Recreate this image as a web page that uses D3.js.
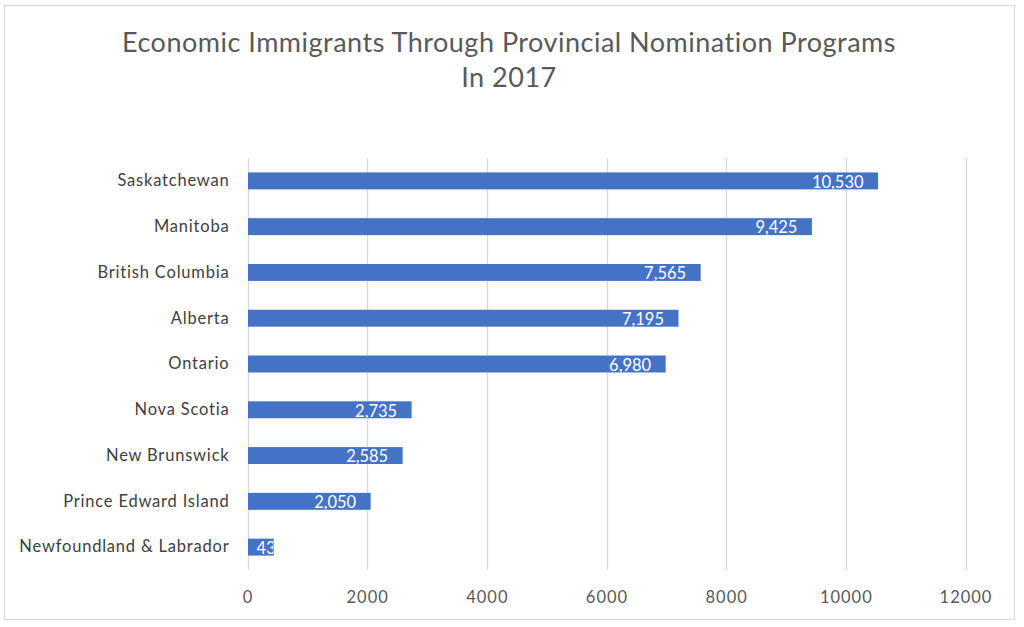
<!DOCTYPE html>
<html>
<head>
<meta charset="utf-8">
<script src="https://cdn.jsdelivr.net/npm/d3@7"></script>
<style>
  body { margin: 0; background: #fff; }
  svg { display: block; }
  text { font-family: Lato, "Open Sans", sans-serif; }
</style>
</head>
<body>
<svg id="chart" width="1024" height="627"></svg>
<script>
const categories = ["Saskatchewan", "Manitoba", "British Columbia", "Alberta", "Ontario",
  "Nova Scotia", "New Brunswick", "Prince Edward Island", "Newfoundland & Labrador"];
const values = [10530, 9425, 7565, 7195, 6980, 2735, 2585, 2050, 430];
const xTicks = [0, 2000, 4000, 6000, 8000, 10000, 12000];
const titleLines = ["Economic Immigrants Through Provincial Nomination Programs", "In 2017"];

const svg = d3.select("#chart");
const W = 1024, H = 627;
const margin = { left: 247.5, right: 1024 - 965.5, top: 158, bottom: 627 - 570 };

svg.append("rect").attr("x", 4.5).attr("y", 5.5).attr("width", 1010).attr("height", 614)
  .attr("fill", "#fff").attr("stroke", "#d9d9d9").attr("stroke-width", 1);

const x = d3.scaleLinear().domain([0, 12000]).range([margin.left, W - margin.right]);
const y = d3.scaleBand().domain(categories).range([margin.top, H - margin.bottom]).paddingInner(0.63).paddingOuter(0.315);

// gridlines
svg.append("g").selectAll("line").data(xTicks).join("line")
  .attr("x1", d => Math.round(x(d)) + 0.5).attr("x2", d => Math.round(x(d)) + 0.5)
  .attr("y1", margin.top).attr("y2", H - margin.bottom)
  .attr("stroke", "#d9d9d9").attr("stroke-width", 1.3);

// x axis labels
const xAxis = d3.axisBottom(x).tickValues(xTicks).tickSize(0).tickPadding(0).tickFormat(d3.format("d"));
const gx = svg.append("g").attr("transform", `translate(0, ${H - margin.bottom + 28})`).call(xAxis);
gx.select(".domain").remove();
gx.selectAll("text").attr("font-size", 16.5).attr("letter-spacing", 1).attr("fill", "#595959")
  .attr("font-family", "Lato, sans-serif").attr("dy", "0.32em");

// y axis labels
const yAxis = d3.axisLeft(y).tickSize(0).tickPadding(18);
const gy = svg.append("g").attr("transform", `translate(${margin.left}, 0)`).call(yAxis);
gy.select(".domain").remove();
gy.selectAll("text").attr("font-size", 16.5).attr("letter-spacing", 0.8).attr("fill", "#404040")
  .attr("font-family", "Lato, sans-serif");

// bars
const data = categories.map((c, i) => ({ c, v: values[i] }));
const defs = svg.append("defs");
data.forEach((d, i) => {
  defs.append("clipPath").attr("id", "clip" + i).append("rect")
    .attr("x", x(0)).attr("y", y(d.c)).attr("width", x(d.v) - x(0)).attr("height", y.bandwidth());
});
svg.append("g").selectAll("rect").data(data).join("rect")
  .attr("x", x(0) + 0.5).attr("y", d => y(d.c))
  .attr("width", d => x(d.v) - x(0)).attr("height", y.bandwidth())
  .attr("fill", "#4472c4");

const fmt = d3.format(",");
svg.append("g").selectAll("text").data(data).join("text")
  .attr("clip-path", (d, i) => `url(#clip${i})`)
  .attr("x", d => (x(d.v) - x(0) > 60) ? x(d.v) - 14 : x(0) + 9)
  .attr("text-anchor", d => (x(d.v) - x(0) > 60) ? "end" : "start")
  .attr("y", d => y(d.c) + y.bandwidth() / 2 + 1)
  .attr("dy", "0.35em")
  .attr("font-size", 16.5).attr("fill", "#ffffff")
  .text(d => fmt(d.v));

// title
svg.append("g").selectAll("text").data(titleLines).join("text")
  .attr("x", 509).attr("y", (d, i) => 52 + i * 35)
  .attr("text-anchor", "middle").attr("font-size", 27).attr("letter-spacing", 0.5).attr("fill", "#595959")
  .text(d => d);
</script>
</body>
</html>
